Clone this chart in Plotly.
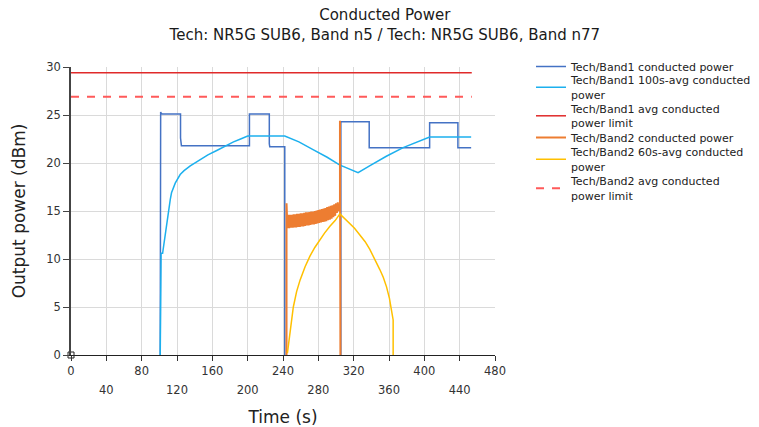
import plotly.graph_objects as go

# ---------------- data ----------------
# Tech/Band1 conducted power (step trace); None = transmitter off
b1_t = [101, 101, 101.5, 102, 103, 124, 124, 125, 202, 202, 224.5, 224.5, 225,
        242, 242, None, 305.5, 305.5, 337.6, 337.6, 406, 406, 438, 438, 453]
b1_p = [0, 2, 25.3, 25.2, 25.1, 25.1, 22.6, 21.8, 21.8, 25.1, 25.1, 22.0, 21.7,
        21.7, 0, None, 0, 24.3, 24.3, 21.6, 21.6, 24.2, 24.2, 21.6, 21.6]

# Tech/Band1 100s-avg conducted power
a1_t = [101, 101.3, 101.6, 102, 103.7, 106.7, 110, 112.4, 113.8, 118, 123.6, 128, 135,
        146, 155, 165, 175, 184, 192, 200, 242, 258, 274, 290, 304, 315, 325, 338,
        357, 376, 395, 406, 453]
a1_v = [0, 8.8, 7.0, 10.6, 10.6, 12.7, 15.0, 16.2, 16.9, 17.9, 18.8, 19.2, 19.7,
        20.35, 20.85, 21.3, 21.8, 22.2, 22.5, 22.8, 22.8, 22.2, 21.4, 20.6, 19.8, 19.4,
        19.0, 19.7, 20.7, 21.6, 22.3, 22.7, 22.7]

# avg conducted power limits
lim_t = [0, 453.7]
b1_limit = [29.4, 29.4]
b2_limit = [26.9, 26.9]

# Tech/Band2 conducted power: lower / upper edge of the oscillation (one sample per second)
b2_lo = [13.2, 13.2, 13.25, 13.25, 13.3, 13.3, 13.35, 13.35, 13.4, 13.4, 13.45, 13.5,
         13.5, 13.55, 13.6, 13.6, 13.65, 13.7, 13.75, 13.8, 13.85, 13.9, 13.95, 14.05,
         14.1, 14.2, 14.35, 14.5, 14.8]
b2_hi = [14.6, 14.6, 14.6, 14.65, 14.65, 14.7, 14.7, 14.75, 14.75, 14.8, 14.85, 14.85,
         14.9, 14.95, 14.95, 15.0, 15.05, 15.1, 15.15, 15.2, 15.25, 15.3, 15.4, 15.45,
         15.55, 15.6, 15.7, 15.8, 15.9]
b2_start = 245  # first oscillation sample (s)
b2_head_t = [244, 244]
b2_head_p = [0, 15.8]
b2_tail_t = [303, 304.5, 304.5, 305]
b2_tail_p = [15.0, 15.2, 24.4, 0]

# Tech/Band2 60s-avg conducted power
a2_t = [245, 248, 251.7, 255.4, 259.3, 265, 270.5, 276, 281.8, 287, 293.1,
        299, 304.4, 310, 315.7, 321, 327, 333, 338.3, 344, 349.6, 353.5, 357.2, 360.5,
        362.9, 364.7, 364.7]
a2_v = [0.2, 2.6, 5.0, 6.6, 7.8, 9.2, 10.3, 11.2, 12.0, 12.7, 13.4, 14.0, 14.7,
        14.2, 13.75, 13.2, 12.5, 11.8, 11.0, 10.0, 8.9, 8.1, 7.1, 5.9, 4.35, 3.65, 0]

x_ticks = [0, 40, 80, 120, 160, 200, 240, 280, 320, 360, 400, 440, 480]
y_ticks = [0, 5, 10, 15, 20, 25, 30]

series_names = ["Tech/Band1 conducted power",
                "Tech/Band1 100s-avg conducted<br>power",
                "Tech/Band1 avg conducted<br>power limit",
                "Tech/Band2 conducted power",
                "Tech/Band2 60s-avg conducted<br>power",
                "Tech/Band2 avg conducted<br>power limit"]

# ---------------- build oscillating band2 trace ----------------
b2_t = list(b2_head_t)
b2_p = list(b2_head_p)
for i, (lo, hi) in enumerate(zip(b2_lo, b2_hi)):
    b2_t += [b2_start + 2 * i, b2_start + 2 * i + 1]
    b2_p += [lo, hi]
b2_t += b2_tail_t
b2_p += b2_tail_p

FONT = "DejaVu Sans"
legend_ids = ["legend", "legend2", "legend3", "legend4", "legend5", "legend6"]
legend_tops = [52, 66.5, 95, 123, 138.5, 167.5]  # px from top of page, one entry per legend

fig = go.Figure()
styles = [dict(color="#4472C4", width=1.5),
          dict(color="#1CB0EE", width=1.5),
          dict(color="#E02A2A", width=1.5),
          dict(color="#ED7D31", width=2),
          dict(color="#FFC000", width=1.5),
          dict(color="#FF5A5A", width=2, dash="8px,8px")]
xs = [b1_t, a1_t, lim_t, b2_t, a2_t, lim_t]
ys = [b1_p, a1_v, b1_limit, b2_p, a2_v, b2_limit]
for x, y, name, st, lg in zip(xs, ys, series_names, styles, legend_ids):
    fig.add_trace(go.Scatter(x=x, y=y, mode="lines", name=name, line=st, legend=lg))

fig.add_trace(go.Scatter(x=[0], y=[0], mode="markers", showlegend=False,
                         cliponaxis=False, xaxis="x2",
                         marker=dict(symbol="square", size=6, color="white",
                                     line=dict(color="#222", width=1))))

row1_text = [str(v) if i % 2 == 0 else "" for i, v in enumerate(x_ticks)]
row2_vals = [v for i, v in enumerate(x_ticks) if i % 2 == 1]

legend_layout = {}
for lg, top in zip(legend_ids, legend_tops):
    legend_layout[lg] = dict(xref="container", yref="container",
                             x=531 / 759, xanchor="left", y=1 - top / 427, yanchor="top",
                             font=dict(size=11, family=FONT, color="#222"),
                             bgcolor="rgba(0,0,0,0)", valign="middle")

fig.update_layout(
    width=759, height=427,
    margin=dict(l=71, r=264, t=67, b=72, autoexpand=False),
    paper_bgcolor="white", plot_bgcolor="white",
    font=dict(family=FONT, color="#222"),
    title=dict(text="Conducted Power<br>Tech: NR5G SUB6, Band n5 / Tech: NR5G SUB6, Band n77",
               x=0.507, xref="container", xanchor="center",
               y=1 - 20 / 427, yref="container", yanchor="top",
               font=dict(size=15, family=FONT, color="#1a1a1a")),
    showlegend=True,
    xaxis=dict(range=[0, 480], tickvals=x_ticks, ticktext=row1_text, automargin=False,
               showgrid=True, gridcolor="#DADADA", gridwidth=1, zeroline=False,
               showline=True, linecolor="#222", linewidth=1,
               ticks="outside", ticklen=5, tickcolor="#333",
               tickfont=dict(size=11.5, family=FONT, color="#333"),
               title=dict(text="Time (s)", font=dict(size=17, family=FONT, color="#222"),
                          standoff=36)),
    xaxis2=dict(overlaying="x", matches="x", side="bottom", range=[0, 480], automargin=False,
                tickvals=row2_vals, showgrid=False, zeroline=False, showline=False,
                ticks="outside", ticklen=5, tickcolor="rgba(0,0,0,0)",
                ticklabelstandoff=19,
                tickfont=dict(size=11.5, family=FONT, color="#333")),
    yaxis=dict(range=[0, 30], tickvals=y_ticks, automargin=False,
               showgrid=True, gridcolor="#DADADA", gridwidth=1, zeroline=False,
               showline=True, linecolor="#444", linewidth=1.5,
               ticks="outside", ticklen=6, tickcolor="#444",
               tickfont=dict(size=11.5, family=FONT, color="#333"),
               title=dict(text="Output power (dBm)", font=dict(size=17, family=FONT, color="#222"),
                          standoff=16)),
    **legend_layout,
)

fig.write_html("out.html")
